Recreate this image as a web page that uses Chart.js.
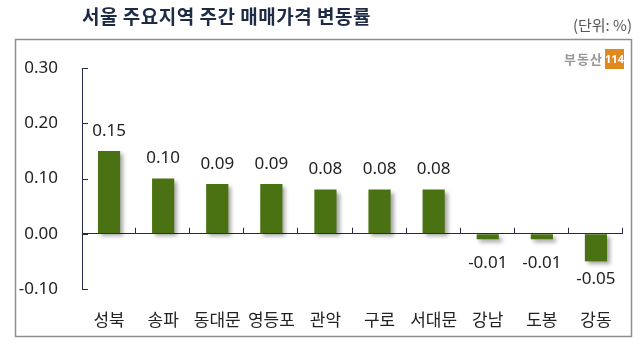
<!DOCTYPE html>
<html>
<head>
<meta charset="utf-8">
<script src="https://cdn.jsdelivr.net/npm/chart.js@4.4.1/dist/chart.umd.min.js"></script>
<style>
  body { margin: 0; background: #fff; }
</style>
</head>
<body>
<canvas id="rate" width="643" height="346"></canvas>
<script>
const regions = ["성북", "송파", "동대문", "영등포", "관악", "구로", "서대문", "강남", "도봉", "강동"];
const weeklyChange = [0.15, 0.10, 0.09, 0.09, 0.08, 0.08, 0.08, -0.01, -0.01, -0.05];
const yTicks = [-0.10, 0.00, 0.10, 0.20, 0.30];

const titleText = "서울 주요지역 주간 매매가격 변동률";
const unitText = "(단위: %)";

const FONT = "'Noto Sans', 'Noto Sans CJK KR', sans-serif";
const KFONT = "'Noto Sans CJK KR', 'Noto Sans', sans-serif";
const AXIS = "#1f2d4a";

// frame, title, unit and logo around the plot
const framePlugin = {
  id: "frame",
  beforeDraw(chart) {
    const ctx = chart.ctx;
    ctx.save();
    ctx.fillStyle = "#fff";
    ctx.fillRect(0, 0, chart.width, chart.height);
    ctx.strokeStyle = "#8f8f8f";
    ctx.lineWidth = 1.5;
    ctx.strokeRect(15.5, 39.5, 616, 297);

    ctx.fillStyle = "#1d2b45";
    ctx.font = "bold 19px " + KFONT;
    ctx.letterSpacing = "0.5px";
    ctx.textBaseline = "middle";
    ctx.textAlign = "left";
    ctx.fillText(titleText, 82, 17);
    ctx.letterSpacing = "0px";

    ctx.fillStyle = "#555";
    ctx.font = "15px " + KFONT;
    ctx.textAlign = "right";
    ctx.fillText(unitText, 632, 25);

    // logo
    ctx.fillStyle = "#999";
    ctx.font = "bold 13px " + KFONT;
    ctx.letterSpacing = "1px";
    ctx.textAlign = "right";
    ctx.fillText("부동산", 603, 59);
    ctx.letterSpacing = "0px";
    ctx.fillStyle = "#e0891f";
    ctx.fillRect(605, 49, 19, 20);
    ctx.fillStyle = "#fff";
    ctx.font = "bold 11px " + FONT;
    ctx.textAlign = "center";
    ctx.fillText("114", 614.5, 59.5);
    ctx.restore();
  },
  afterDraw(chart) {
    const ctx = chart.ctx;
    const x = chart.scales.x;
    const y = chart.scales.y;
    const zero = y.getPixelForValue(0);
    const step = x.width / regions.length;
    ctx.save();
    ctx.strokeStyle = AXIS;
    ctx.lineWidth = 1;
    ctx.beginPath();
    // y ticks pointing into the plot
    yTicks.forEach(v => {
      const py = Math.round(y.getPixelForValue(v)) + 0.5;
      ctx.moveTo(x.left, py);
      ctx.lineTo(x.left + 6, py);
    });
    // category separators rising from the zero line
    for (let i = 1; i <= regions.length; i++) {
      const bx = Math.round(x.left + i * step) - 0.5;
      ctx.moveTo(bx, zero);
      ctx.lineTo(bx, zero - 6);
    }
    ctx.stroke();
    ctx.restore();
  }
};

const shadowPlugin = {
  id: "barShadow",
  beforeDatasetDraw(chart) {
    const ctx = chart.ctx;
    ctx.save();
    ctx.shadowColor = "rgba(0,0,0,0.35)";
    ctx.shadowBlur = 4;
    ctx.shadowOffsetX = 3;
    ctx.shadowOffsetY = 3;
  },
  afterDatasetDraw(chart) {
    chart.ctx.restore();
  }
};

const valueLabels = {
  id: "valueLabels",
  afterDatasetsDraw(chart) {
    const ctx = chart.ctx;
    const zero = chart.scales.y.getPixelForValue(0);
    ctx.save();
    ctx.fillStyle = "#222";
    ctx.font = "17px " + FONT;
    ctx.textAlign = "center";
    ctx.textBaseline = "middle";
    chart.getDatasetMeta(0).data.forEach((bar, i) => {
      const v = weeklyChange[i];
      const txt = v.toFixed(2);
      if (v >= 0) {
        ctx.fillText(txt, bar.x, bar.y - 20);
      } else {
        ctx.fillText(txt, bar.x, Math.max(bar.y + 18, zero + 29));
      }
    });
    ctx.restore();
  }
};

new Chart(document.getElementById("rate"), {
  type: "bar",
  data: {
    labels: regions,
    datasets: [{
      data: weeklyChange,
      backgroundColor: "#4a7112",
      barPercentage: 0.41,
      categoryPercentage: 1
    }]
  },
  options: {
    responsive: false,
    animation: false,
    devicePixelRatio: 1,
    layout: { padding: { left: 18, right: 20, top: 68, bottom: 14 } },
    plugins: { legend: { display: false }, tooltip: { enabled: false } },
    scales: {
      x: {
        afterFit: s => { s.height = 43; },
        grid: { display: false, drawTicks: false },
        border: { display: false },
        ticks: { color: "#222", font: { family: KFONT, size: 17 }, padding: 20, maxRotation: 0, autoSkip: false }
      },
      y: {
        min: -0.1,
        max: 0.3,
        afterFit: s => { s.width = 64; },
        afterBuildTicks: scale => { scale.ticks = yTicks.map(v => ({ value: v })); },
        grid: {
          drawTicks: false,
          color: c => (c.tick && Math.abs(c.tick.value) < 1e-9 ? AXIS : "transparent")
        },
        border: { display: true, color: AXIS },
        ticks: {
          color: "#222",
          font: { family: FONT, size: 17 },
          padding: 24,
          callback: v => Number(v).toFixed(2)
        }
      }
    }
  },
  plugins: [framePlugin, shadowPlugin, valueLabels]
});
</script>
</body>
</html>
